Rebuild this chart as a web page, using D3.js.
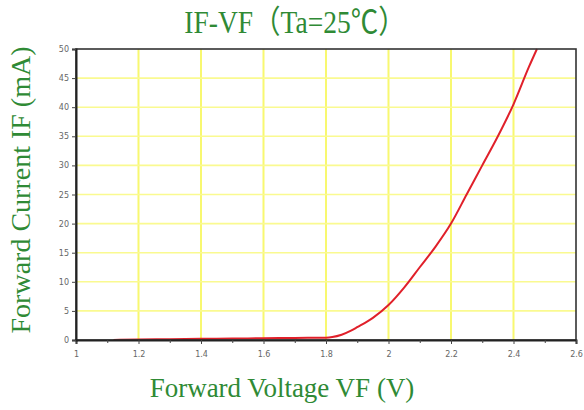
<!DOCTYPE html>
<html><head><meta charset="utf-8">
<script src="https://cdn.jsdelivr.net/npm/d3@7"></script>
<style>body{margin:0;background:#fff;}svg{display:block;}</style>
</head><body>
<svg id="c" width="584" height="410"></svg>
<script>
const voltages = [1.12,1.2,1.3,1.4,1.5,1.6,1.7,1.8,1.82,1.85,1.88,1.9,1.95,2.0,2.05,2.1,2.15,2.2,2.25,2.3,2.35,2.4,2.45,2.475];
const currents = [0,0.1,0.15,0.2,0.25,0.3,0.35,0.4,0.5,0.9,1.6,2.2,3.8,6,9,12.5,16,20,25,30,35,40.5,47,50];
const xTicks = [1,1.2,1.4,1.6,1.8,2,2.2,2.4,2.6];
const xMinor = [1.1,1.3,1.5,1.7,1.9,2.1,2.3,2.5];
const yTicks = [0,5,10,15,20,25,30,35,40,45,50];
const title = "IF-VF\uFF08Ta=25\u2103\uFF09";
const xTitle = "Forward Voltage VF (V)";
const yTitle = "Forward Current IF (mA)";

const svg = d3.select("#c");
const L=76,R=576,T=49,B=340;
const x = d3.scaleLinear().domain([1,2.6]).range([L,R]);
const y = d3.scaleLinear().domain([0,50]).range([B,T]);
const green="#2f8a35";

// grid
svg.append("g").selectAll("line").data(xTicks.slice(1,-1)).join("line")
  .attr("x1",d=>x(d)).attr("x2",d=>x(d)).attr("y1",T).attr("y2",B)
  .attr("stroke","#f8f870").attr("stroke-width",2);
svg.append("g").selectAll("line").data(yTicks.slice(1,-1)).join("line")
  .attr("y1",d=>y(d)).attr("y2",d=>y(d)).attr("x1",L).attr("x2",R)
  .attr("stroke","#fafa90").attr("stroke-width",1.6);

// curve
const line = d3.line().x((d,i)=>x(voltages[i])).y(d=>y(d)).curve(d3.curveMonotoneX);
svg.append("path").datum(currents).attr("d",line).attr("fill","none")
  .attr("stroke","#e0202a").attr("stroke-width",2);

// frame
svg.append("rect").attr("x",L).attr("y",T).attr("width",R-L).attr("height",B-T)
  .attr("fill","none").attr("stroke","#333").attr("stroke-width",1.6);

// axes
const xa = svg.append("g").attr("transform",`translate(0,${B})`)
  .call(d3.axisBottom(x).tickValues(xTicks).tickSize(4).tickFormat(d3.format("~g")));
svg.append("g").attr("transform",`translate(0,${B})`)
  .call(d3.axisBottom(x).tickValues(xMinor).tickSize(3).tickFormat(""))
  .call(g=>g.select(".domain").remove());
const ya = svg.append("g").attr("transform",`translate(${L},0)`)
  .call(d3.axisLeft(y).tickValues(yTicks).tickSize(4));
svg.selectAll(".domain").attr("stroke","#222").attr("stroke-width",2);
svg.selectAll(".tick line").attr("stroke","#444");
svg.selectAll(".tick text").attr("fill","#666").attr("font-family","DejaVu Sans, sans-serif").attr("font-size",8);
xa.selectAll(".tick text").attr("dy","1.3em");

// titles
svg.append("text").attr("x",295).attr("y",33).attr("text-anchor","middle")
  .attr("font-family","Liberation Serif, 'Noto Sans CJK TC', serif").attr("font-size",32)
  .attr("fill",green).attr("transform","translate(295,0) scale(0.86,1) translate(-295,0)").text(title);
svg.append("text").attr("x",282).attr("y",397).attr("text-anchor","middle")
  .attr("font-family","Liberation Serif, serif").attr("font-size",27)
  .attr("fill",green).text(xTitle);
svg.append("text").attr("transform","translate(30,190) rotate(-90)").attr("text-anchor","middle")
  .attr("font-family","Liberation Serif, serif").attr("font-size",28)
  .attr("fill",green).text(yTitle);
</script>
</body></html>
